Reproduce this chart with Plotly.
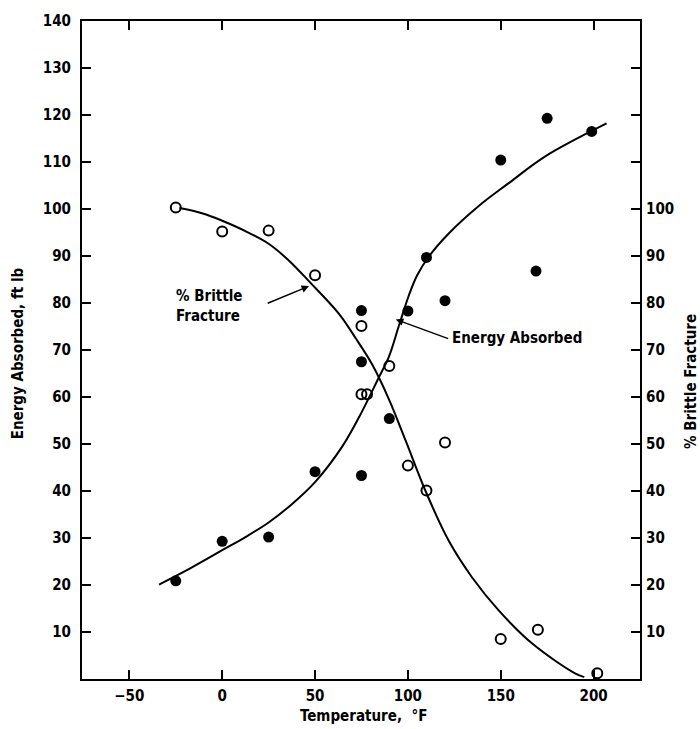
import plotly.graph_objects as go

# Measured points (filled = energy absorbed, open = % brittle fracture)
energy_T = [-25, 0, 25, 50, 75, 75, 75, 90, 100, 110, 120, 150, 169, 175, 199]
energy_E = [20.9, 29.3, 30.2, 44.1, 78.4, 67.5, 43.3, 55.4, 78.3, 89.7, 80.5, 110.4, 86.8, 119.3, 116.5]

brittle_T = [-25, 0, 25, 50, 75, 75, 78, 90, 100, 110, 120, 150, 170, 202]
brittle_P = [100.3, 95.2, 95.4, 85.9, 75.1, 60.6, 60.6, 66.6, 45.4, 40.1, 50.3, 8.5, 10.5, 1.2]

# Fitted curves
energy_curve_T = [-34, -17, 0, 12.5, 25, 37.5, 50, 64.7, 75.4, 84.4, 89.8, 95.2, 100.5, 105, 111.3, 122, 138, 154.3, 174, 207]
energy_curve_E = [20.1, 23.6, 27.4, 30.2, 33.3, 37.2, 41.9, 49.5, 57.0, 64.2, 68.6, 75.2, 81.6, 85.9, 89.9, 94.8, 100.6, 105.5, 111.2, 118.2]

brittle_curve_T = [-23, -10, 0, 12.5, 25, 36, 46.8, 62.9, 71.9, 80.8, 89.8, 98.8, 109.5, 122, 134.6, 148.9, 166.8, 190, 195]
brittle_curve_P = [100.2, 99.0, 97.5, 95.3, 92.6, 89.0, 84.6, 77.7, 72.5, 66.9, 59.5, 50.7, 40.0, 29.4, 21.6, 14.6, 7.6, 1.2, 0.4]

left_ticks = [10, 20, 30, 40, 50, 60, 70, 80, 90, 100, 110, 120, 130, 140]
right_ticks = [10, 20, 30, 40, 50, 60, 70, 80, 90, 100, 110, 120, 130]
right_labels = ["10", "20", "30", "40", "50", "60", "70", "80", "90", "100", "", "", ""]
x_ticks = [-50, 0, 50, 100, 150, 200]

FONT = "DejaVu Sans Condensed, Liberation Sans Narrow, Arial Narrow, sans-serif"

fig = go.Figure()
fig.add_trace(go.Scatter(x=energy_curve_T, y=energy_curve_E, mode="lines",
                         line=dict(color="black", width=2, shape="spline", smoothing=1.0),
                         yaxis="y", showlegend=False, hoverinfo="skip"))
fig.add_trace(go.Scatter(x=brittle_curve_T, y=brittle_curve_P, mode="lines",
                         line=dict(color="black", width=2, shape="spline", smoothing=1.0),
                         yaxis="y2", showlegend=False, hoverinfo="skip"))
fig.add_trace(go.Scatter(x=energy_T, y=energy_E, mode="markers",
                         marker=dict(symbol="circle", size=11, color="black"),
                         yaxis="y", showlegend=False))
fig.add_trace(go.Scatter(x=brittle_T, y=brittle_P, mode="markers",
                         marker=dict(symbol="circle-open", size=10, color="black",
                                     line=dict(width=2, color="black")),
                         yaxis="y2", showlegend=False))

tickfont = dict(family=FONT, size=15, color="black", weight="bold")

fig.update_layout(
    width=700, height=729,
    margin=dict(l=82, r=60, t=19, b=50),
    paper_bgcolor="white", plot_bgcolor="white",
    font=dict(family=FONT, color="black"),
    xaxis=dict(range=[-75.5, 225], tickvals=x_ticks, ticks="inside", ticklen=9,
               tickwidth=2, tickcolor="black", showline=True, linecolor="black",
               linewidth=2, mirror="ticks", showgrid=False, zeroline=False,
               tickfont=tickfont, ticklabelstandoff=2),
    yaxis=dict(range=[0, 140], tickvals=left_ticks, ticks="inside", ticklen=9,
               tickwidth=2, tickcolor="black", showline=True, linecolor="black",
               linewidth=2, showgrid=False, zeroline=False, tickfont=tickfont,
               ticklabelstandoff=6),
    yaxis2=dict(range=[0, 140], overlaying="y", side="right", tickvals=right_ticks,
                ticktext=right_labels, ticks="inside", ticklen=9, tickwidth=2,
                tickcolor="black", showline=True, linecolor="black", linewidth=2,
                showgrid=False, zeroline=False, tickfont=tickfont,
                ticklabelstandoff=1),
)

ann_font = dict(family=FONT, size=15, color="black", weight="bold")

# Axis titles
fig.add_annotation(text="Energy Absorbed, ft lb", xref="paper", yref="paper",
                   x=-0.1147, y=0.495, textangle=-90, showarrow=False,
                   xanchor="center", yanchor="middle", font=ann_font)
fig.add_annotation(text="% Brittle Fracture", xref="paper", yref="paper",
                   x=1.0914, y=0.4515, textangle=-90, showarrow=False,
                   xanchor="center", yanchor="middle", font=ann_font)
fig.add_annotation(text="Temperature,  °F", xref="paper", yref="paper",
                   x=0.505, y=-0.056, showarrow=False,
                   xanchor="center", yanchor="middle", font=ann_font)

# Curve labels
fig.add_annotation(text="% Brittle<br>Fracture", x=-26, y=79.3, xref="x", yref="y",
                   showarrow=False, xanchor="left", yanchor="middle", align="left",
                   font=ann_font)
fig.add_annotation(text="", x=46.8, y=83.6, ax=23.7, ay=79.8, xref="x", yref="y",
                   axref="x", ayref="y", showarrow=True, arrowhead=2, arrowsize=1,
                   arrowwidth=1.5, arrowcolor="black")
fig.add_annotation(text="Energy Absorbed", x=122.5, y=72.6, xref="x", yref="y",
                   showarrow=False, xanchor="left", yanchor="middle", font=ann_font)
fig.add_annotation(text="", x=93.5, y=76.5, ax=122.5, ay=72.3, xref="x", yref="y",
                   axref="x", ayref="y", showarrow=True, arrowhead=2, arrowsize=1,
                   arrowwidth=1.5, arrowcolor="black")

# remove the default page margin so the 700x729 figure fills the window exactly
fig.write_html("out.html", config={"displayModeBar": False},
               post_script="document.body.style.margin='0px';")
